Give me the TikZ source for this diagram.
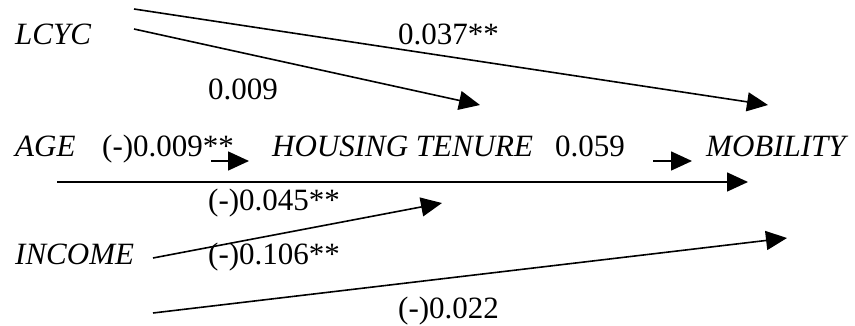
\documentclass[tikz,border=0pt]{standalone}
\usepackage{fontspec}
\setmainfont{Liberation Serif}
\usetikzlibrary{arrows.meta}
\begin{document}
\begin{tikzpicture}[x=1pt,y=-1pt,
  txt/.style={anchor=base west,inner sep=0pt,font=\fontsize{31}{37}\selectfont},
  var/.style={txt,font=\fontsize{31}{37}\selectfont\itshape},
  arr/.style={line width=1.6pt,-{Triangle[length=21pt,width=19pt]}}]
\useasboundingbox (0,0) rectangle (855,326);
% variables
\node[var] (lcyc) at (15,45) {LCYC};
\node[var] (age) at (15,157) {AGE};
\node[var] (income) at (15,265) {INCOME};
\node[var] (housing) at (272,157) {HOUSING TENURE};
\node[var] (mobility) at (706,157) {MOBILITY};
% coefficients
\node[txt] (l037) at (398,45) {0.037**};
\node[txt] (l009) at (208,100) {0.009};
\node[txt] (lage) at (102,157) {(-)0.009**};
\node[txt] (l059) at (555,157) {0.059};
\node[txt] (l045) at (208,211) {(-)0.045**};
\node[txt] (l106) at (208,265) {(-)0.106**};
\node[txt] (l022) at (398,318) {(-)0.022};
% arrow end points
\coordinate (a1s) at (134,9);   \coordinate (a1e) at (768,105);
\coordinate (a2s) at (134,29);  \coordinate (a2e) at (480,105);
\coordinate (a3s) at (211,161); \coordinate (a3e) at (249,161);
\coordinate (a4s) at (653,161); \coordinate (a4e) at (692,161);
\coordinate (a5s) at (57,182);  \coordinate (a5e) at (748,182);
\coordinate (a6s) at (153,258); \coordinate (a6e) at (442,203);
\coordinate (a7s) at (153,313); \coordinate (a7e) at (787,238);
\draw[arr] (a1s) -- (a1e);
\draw[arr] (a2s) -- (a2e);
\draw[arr] (a3s) -- (a3e);
\draw[arr] (a4s) -- (a4e);
\draw[arr] (a5s) -- (a5e);
\draw[arr] (a6s) -- (a6e);
\draw[arr] (a7s) -- (a7e);
\end{tikzpicture}
\end{document}
